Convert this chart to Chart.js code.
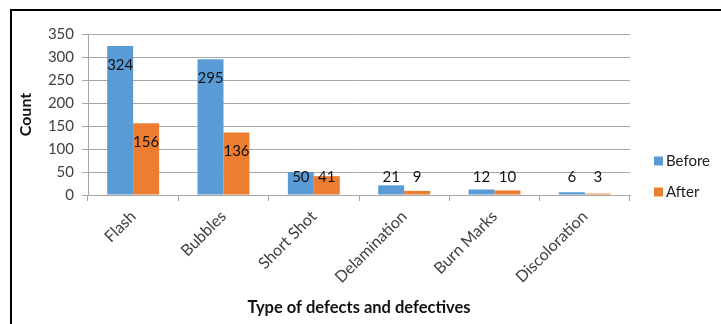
<!DOCTYPE html>
<html>
<head>
<meta charset="utf-8">
<script src="https://cdn.jsdelivr.net/npm/chart.js@4/dist/chart.umd.min.js"></script>
<style>
  html, body { margin: 0; padding: 0; background: #fff; }
  #wrap { width: 721px; height: 324px; position: relative; }
</style>
</head>
<body>
<div id="wrap"><canvas id="c" width="721" height="324"></canvas></div>
<script>
const categories = ["Flash", "Bubbles", "Short Shot", "Delamination", "Burn Marks", "Discoloration"];
const seriesNames = ["Before", "After"];
const beforeValues = [324, 295, 50, 21, 12, 6];
const afterValues = [156, 136, 41, 9, 10, 3];
const yTitle = "Count";
const xTitle = "Type of defects and defectives";

const FONT = "Lato, 'Open Sans', 'Liberation Sans', sans-serif";
const BLUE = "#5B9BD5";
const ORANGE = "#ED7D31";
const GRID = "#a6a6a6";
const TXT = "#404040";

const framePlugin = {
  id: 'frame',
  afterDraw(chart) {
    const ctx = chart.ctx;
    ctx.save();
    ctx.fillStyle = '#000';
    ctx.fillRect(10, 9, 711, 2);
    ctx.fillRect(10, 9, 2, 315);
    ctx.restore();
  }
};

const labelPlugin = {
  id: 'barLabels',
  afterDatasetsDraw(chart) {
    const ctx = chart.ctx;
    const zeroY = chart.scales.y.getPixelForValue(0);
    ctx.save();
    ctx.font = "15px " + FONT;
    ctx.fillStyle = "#111";
    ctx.textAlign = 'center';
    ctx.textBaseline = 'middle';
    chart.data.datasets.forEach((ds, di) => {
      const meta = chart.getDatasetMeta(di);
      meta.data.forEach((bar, i) => {
        const y = Math.min(bar.y + 19, zeroY - 18);
        ctx.fillText(String(ds.data[i]), bar.x, y);
      });
    });
    ctx.restore();
  }
};

const legendPlugin = {
  id: 'customLegend',
  afterDraw(chart) {
    const ctx = chart.ctx;
    const rows = [161, 192];
    ctx.save();
    ctx.font = "15px " + FONT;
    ctx.textBaseline = 'middle';
    ctx.textAlign = 'left';
    chart.data.datasets.forEach((ds, di) => {
      const cy = rows[di];
      ctx.fillStyle = ds.backgroundColor;
      ctx.fillRect(654, cy - 4.5, 9, 9);
      ctx.fillStyle = "#222";
      ctx.fillText(ds.label, 666, cy);
    });
    ctx.restore();
  }
};

new Chart(document.getElementById('c'), {
  type: 'bar',
  data: {
    labels: categories,
    datasets: [
      { label: seriesNames[0], data: beforeValues, backgroundColor: BLUE,
        categoryPercentage: 0.575, barPercentage: 1.0 },
      { label: seriesNames[1], data: afterValues, backgroundColor: ORANGE,
        categoryPercentage: 0.575, barPercentage: 1.0 }
    ]
  },
  options: {
    responsive: false,
    animation: false,
    layout: { padding: { left: 0, right: 91, top: 34, bottom: 0 } },
    plugins: {
      legend: { display: false },
      tooltip: { enabled: false }
    },
    scales: {
      x: {
        grid: { display: true, drawOnChartArea: false, drawTicks: true, tickLength: 6, color: GRID, offset: true },
        border: { display: true, color: GRID, width: 1 },
        ticks: { color: TXT, font: { family: FONT, size: 16 }, maxRotation: 45, minRotation: 45, padding: 6, autoSkip: false },
        title: { display: true, text: xTitle, color: '#111', font: { family: FONT, size: 16.5, weight: 'bold' }, padding: { top: 0, bottom: 6 } },
        afterFit(scale) { scale.height = 129; }
      },
      y: {
        min: 0, max: 350,
        grid: { color: GRID, tickLength: 6, drawTicks: true },
        border: { display: true, color: GRID, width: 1 },
        ticks: { stepSize: 50, color: TXT, font: { family: FONT, size: 15 }, padding: 8 },
        title: { display: true, text: yTitle, color: '#111', font: { family: FONT, size: 16, weight: 'bold' }, padding: { top: 16, bottom: 0 } },
        afterFit(scale) { scale.width = 88; }
      }
    }
  },
  plugins: [labelPlugin, legendPlugin, framePlugin]
});
</script>
</body>
</html>
